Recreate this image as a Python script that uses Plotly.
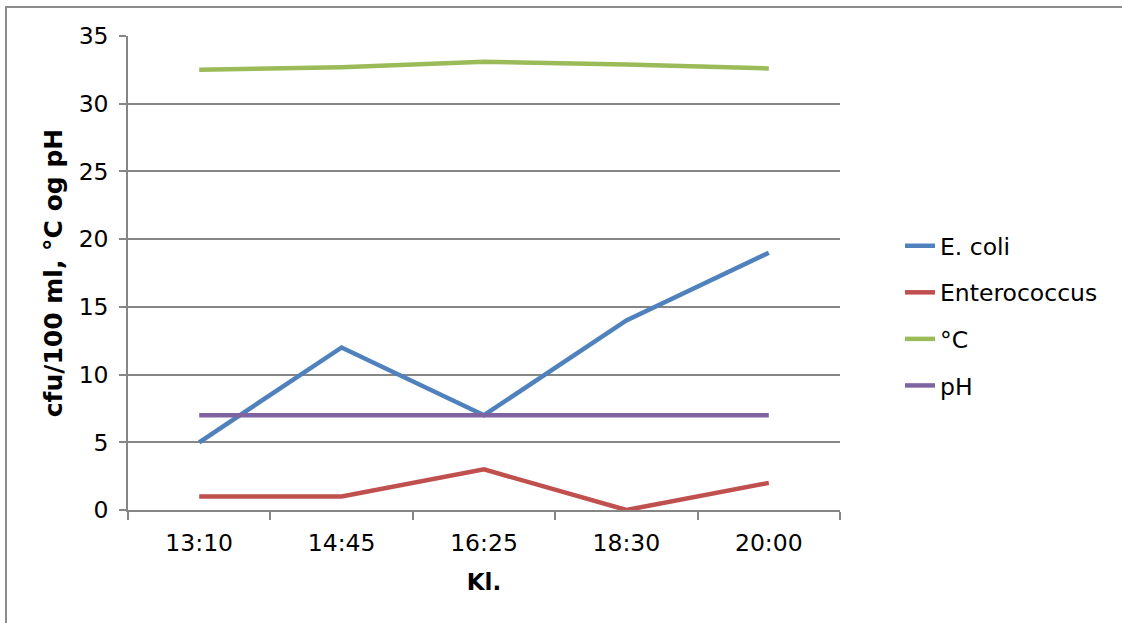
import plotly.graph_objects as go

times = ["13:10", "14:45", "16:25", "18:30", "20:00"]
ecoli = [5, 12, 7, 14, 19]
entero = [1, 1, 3, 0, 2]
temp = [32.5, 32.7, 33.1, 32.9, 32.6]
ph = [7, 7, 7, 7, 7]

series = [
    ("E. coli", ecoli, "#4F81BD"),
    ("Enterococcus", entero, "#C0504D"),
    ("°C", temp, "#9BBB59"),
    ("pH", ph, "#8064A2"),
]

W, H = 1122, 623
L, R, T, B = 128, 840, 36, 510

fig = go.Figure()
for name, vals, col in series:
    fig.add_trace(go.Scatter(
        x=times, y=vals, name=name, mode="lines",
        line=dict(color=col, width=4.5), legendgroup=name,
    ))

font = "DejaVu Sans, Verdana, sans-serif"
fig.update_layout(
    width=W, height=H,
    margin=dict(l=L, r=W - R, t=T, b=H - B, pad=0),
    paper_bgcolor="white", plot_bgcolor="white",
    font=dict(family=font, size=23.5, color="black"),
    showlegend=True,
    legend=dict(
        xref="container", yref="container",
        x=900 / W, y=1 - 316 / H, xanchor="left", yanchor="middle",
        font=dict(size=23.5), tracegroupgap=13, itemwidth=30,
        bgcolor="rgba(0,0,0,0)",
    ),
    xaxis=dict(
        type="category", range=[-0.5, 4.5],
        showgrid=False, showline=True, linecolor="#868686", linewidth=1.5,
        ticks="outside", tickson="boundaries", ticklen=8, tickcolor="#868686",
        tickwidth=1.5, ticklabelstandoff=11,
        title=dict(text="<b>Kl.</b>", font=dict(size=23), standoff=18),
        zeroline=False,
    ),
    yaxis=dict(
        range=[0, 35], dtick=5, tick0=0,
        showgrid=True, gridcolor="#868686", gridwidth=1.5,
        showline=True, linecolor="#868686", linewidth=1.5,
        ticks="outside", ticklen=7, tickcolor="#868686", tickwidth=1.5,
        ticklabelstandoff=6,
        title=dict(text="<b>cfu/100 ml, °C og pH</b>", font=dict(size=25), standoff=9),
        zeroline=False,
    ),
)

pw, ph_ = R - L, B - T
def px(x):
    return (x - L) / pw
def py(y):
    return (B - y) / ph_

fig.add_shape(type="rect", xref="paper", yref="paper",
              x0=px(6), x1=px(1140), y0=py(640), y1=py(7),
              line=dict(color="#8C8C8C", width=2), fillcolor="rgba(0,0,0,0)", layer="below")

fig.write_html("out.html", config={"displayModeBar": False},
               post_script="document.body.style.margin='0';")
